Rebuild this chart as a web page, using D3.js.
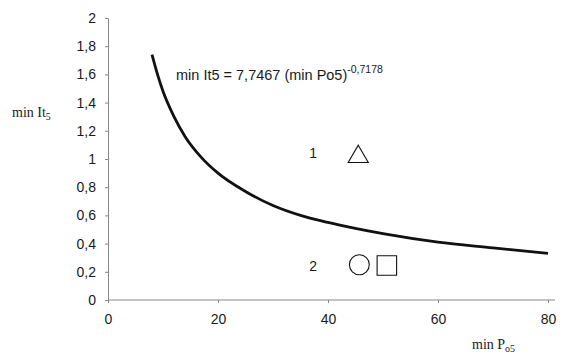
<!DOCTYPE html>
<html>
<head>
<meta charset="utf-8">
<script src="https://cdn.jsdelivr.net/npm/d3@7"></script>
<style>
  body { margin: 0; background: #fff; }
  svg { display: block; }
</style>
</head>
<body>
<div id="chart"></div>
<script>
// fitted curve min It5 = 7,7467 (min Po5)^-0,7178
const curveX = [8, 9, 10, 12, 14, 17, 20, 25, 30, 35, 40, 50, 60, 70, 80];
const curveY = [1.74, 1.60, 1.48, 1.30, 1.16, 1.01, 0.90, 0.77, 0.67, 0.60, 0.55, 0.47, 0.41, 0.37, 0.33];

// marker groups
const groupLabels = ["1", "2"];
const groupLabelX = [37.3, 37.3];
const groupLabelY = [1.04, 0.24];
const markerShape = ["triangle", "circle", "square"];
const markerX = [45.5, 45.7, 50.7];
const markerY = [1.03, 0.25, 0.245];

const xTicks = [0, 20, 40, 60, 80];
const yTicks = [0, 0.2, 0.4, 0.6, 0.8, 1, 1.2, 1.4, 1.6, 1.8, 2];

const width = 565, height = 356;
const svg = d3.select("#chart").append("svg")
  .attr("width", width).attr("height", height);

const x = d3.scaleLinear().domain([0, 80]).range([108, 548]);
const y = d3.scaleLinear().domain([0, 2]).range([300, 18]);

const fmt = d => String(d).replace(".", ",");
const axisFont = "'Liberation Sans', Arial, sans-serif";
const serif = "'Liberation Serif', 'Times New Roman', serif";

// x axis
const xAxis = svg.append("g")
  .attr("transform", `translate(0,${y(0)})`)
  .call(d3.axisBottom(x).tickValues(xTicks).tickSize(3).tickPadding(11).tickFormat(fmt));
xAxis.select(".domain").attr("d", `M${x(0)},0H555`);

// y axis
const yAxis = svg.append("g")
  .attr("transform", `translate(${x(0)},0)`)
  .call(d3.axisLeft(y).tickValues(yTicks).tickSize(3).tickPadding(9).tickFormat(fmt));

svg.selectAll(".domain, .tick line").attr("stroke", "#888").attr("stroke-width", 1);
svg.selectAll(".tick text")
  .attr("fill", "#1a1a1a")
  .style("font-family", axisFont)
  .style("font-size", "14px");

// axis titles
const yTitle = svg.append("text")
  .attr("x", 12).attr("y", 117)
  .style("font-family", serif).style("font-size", "14px").attr("fill", "#1a1a1a");
yTitle.append("tspan").text("min It");
yTitle.append("tspan").attr("dy", 3).style("font-size", "10px").text("5");

const xTitle = svg.append("text")
  .attr("x", 472).attr("y", 349)
  .style("font-family", serif).style("font-size", "14px").attr("fill", "#1a1a1a");
xTitle.append("tspan").text("min P");
xTitle.append("tspan").attr("dy", 3).style("font-size", "10px").text("o5");

// equation
const eq = svg.append("text")
  .attr("x", 176).attr("y", 80)
  .style("font-family", axisFont).style("font-size", "14.5px").attr("fill", "#1a1a1a");
eq.append("tspan").text("min It5 = 7,7467 (min Po5)");
eq.append("tspan").attr("dy", -7).style("font-size", "10.5px").text("-0,7178");

// fitted curve
const pts = curveX.map((d, i) => [d, curveY[i]]);
svg.append("path")
  .datum(pts)
  .attr("fill", "none")
  .attr("stroke", "#111")
  .attr("stroke-width", 2.8)
  .attr("d", d3.line().x(d => x(d[0])).y(d => y(d[1])).curve(d3.curveMonotoneX));

// group labels
svg.selectAll(".glabel")
  .data(groupLabels)
  .enter()
  .append("text")
  .attr("class", "glabel")
  .attr("x", (d, i) => x(groupLabelX[i]))
  .attr("y", (d, i) => y(groupLabelY[i]))
  .attr("dy", "0.35em")
  .attr("text-anchor", "middle")
  .style("font-family", axisFont).style("font-size", "14px").attr("fill", "#1a1a1a")
  .text(d => d);

// markers
const symType = { triangle: d3.symbolTriangle, circle: d3.symbolCircle, square: d3.symbolSquare };
const symSize = { triangle: 175, circle: 310, square: 380 };
svg.selectAll(".marker")
  .data(markerShape)
  .enter()
  .append("path")
  .attr("class", "marker")
  .attr("transform", (d, i) => `translate(${x(markerX[i])},${y(markerY[i]) + (d === "triangle" ? 2 : 0)})`)
  .attr("d", d => d3.symbol().type(symType[d]).size(symSize[d])())
  .attr("fill", "none")
  .attr("stroke", "#111")
  .attr("stroke-width", 1.1);
</script>
</body>
</html>
